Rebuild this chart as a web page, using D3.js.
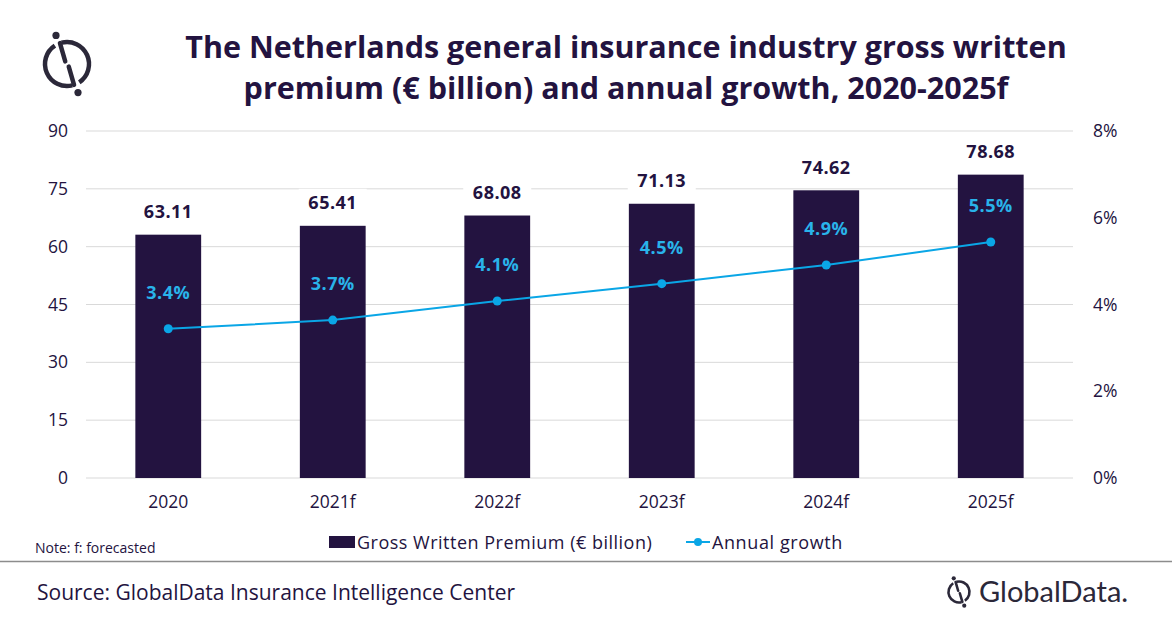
<!DOCTYPE html>
<html>
<head>
<meta charset="utf-8">
<script src="https://cdn.jsdelivr.net/npm/d3@7"></script>
<style>
  body { margin: 0; background: #fff; }
  text { font-family: "Open Sans", sans-serif; }
</style>
</head>
<body>
<div class="chart"></div>
<script>
const years = ['2020', '2021f', '2022f', '2023f', '2024f', '2025f'];
const premium = [63.11, 65.41, 68.08, 71.13, 74.62, 78.68];
const growth = [3.44, 3.64, 4.08, 4.48, 4.91, 5.44];
const growthLabels = ['3.4%', '3.7%', '4.1%', '4.5%', '4.9%', '5.5%'];
const leftTicks = [0, 15, 30, 45, 60, 75, 90];
const rightTicks = [0, 2, 4, 6, 8];

const W = 1172, H = 628;
const dark = '#231340';
const blue = '#0aa6e6';
const labelBlue = '#29b3ea';

const svg = d3.select('.chart')
    .append('svg')
        .attr('width', W)
        .attr('height', H);

const x = d3.scaleBand().domain(years).range([86, 1073]).paddingInner(0.6).paddingOuter(0.3);
const y = d3.scaleLinear().domain([0, 90]).range([478, 131]);
const y2 = d3.scaleLinear().domain([0, 8]).range([478, 131]);

// title
svg.append('text')
    .attr('x', 626).attr('y', 0)
    .attr('text-anchor', 'middle')
    .style('font-weight', 700).style('font-size', '30.5px').style('fill', dark)
    .selectAll('tspan')
    .data(['The Netherlands general insurance industry gross written', 'premium (€ billion) and annual growth, 2020-2025f'])
    .enter().append('tspan')
        .attr('x', 626)
        .attr('y', (d, i) => 58 + i * 41)
        .text(d => d);

// logo
const logo = (g, cx, cy, r, sw) => {
    const arc = d3.arc().innerRadius(r - sw / 2).outerRadius(r + sw / 2);
    g.append('path').attr('transform', `translate(${cx},${cy})`)
        .attr('d', arc({ startAngle: -0.25, endAngle: 2.55 })).attr('fill', '#2b2839');
    g.append('path').attr('transform', `translate(${cx},${cy})`)
        .attr('d', arc({ startAngle: 2.9, endAngle: 5.7 })).attr('fill', '#2b2839');
    g.append('line')
        .attr('x1', cx - r * 0.32).attr('y1', cy - r * 0.95)
        .attr('x2', cx - r * 0.08).attr('y2', cy - r * 0.12)
        .attr('stroke', '#2b2839').attr('stroke-width', sw).attr('stroke-linecap', 'round');
    g.append('line')
        .attr('x1', cx + r * 0.08).attr('y1', cy + r * 0.12)
        .attr('x2', cx + r * 0.32).attr('y2', cy + r * 0.95)
        .attr('stroke', '#2b2839').attr('stroke-width', sw).attr('stroke-linecap', 'round');
    g.append('circle').attr('cx', cx - r * 0.5).attr('cy', cy - r * 1.3).attr('r', sw * 0.8).attr('fill', '#2b2839');
    g.append('circle').attr('cx', cx + r * 0.5).attr('cy', cy + r * 1.3).attr('r', sw * 0.8).attr('fill', '#2b2839');
};
logo(svg.append('g'), 67, 64, 22, 4.5);

// gridlines
svg.append('g')
    .selectAll('line')
    .data(leftTicks)
    .enter().append('line')
        .attr('x1', 86).attr('x2', 1073)
        .attr('y1', d => y(d)).attr('y2', d => y(d))
        .attr('stroke', '#d9d9d9').attr('stroke-width', 1);

// axes
const axisStyle = g => {
    g.select('.domain').remove();
    g.selectAll('.tick line').remove();
    g.selectAll('text')
        .style('font-size', '17.5px').style('fill', dark)
        .style('font-family', '"Open Sans", sans-serif');
};
svg.append('g')
    .attr('transform', 'translate(68,0)')
    .call(d3.axisLeft(y).tickValues(leftTicks).tickSize(0).tickPadding(0))
    .call(axisStyle);
svg.append('g')
    .attr('transform', 'translate(1093,0)')
    .call(d3.axisRight(y2).tickValues(rightTicks).tickSize(0).tickPadding(0).tickFormat(d => d + '%'))
    .call(axisStyle);
svg.append('g')
    .attr('transform', 'translate(0,496)')
    .call(d3.axisBottom(x).tickSize(0).tickPadding(0))
    .call(axisStyle);

// bars
svg.append('g')
    .selectAll('rect')
    .data(premium)
    .enter().append('rect')
        .attr('x', (d, i) => x(years[i]))
        .attr('y', d => y(d))
        .attr('width', x.bandwidth())
        .attr('height', d => y(0) - y(d))
        .attr('fill', dark);

// bar labels with white backing
const barLab = svg.append('g')
    .selectAll('g')
    .data(premium)
    .enter().append('g')
        .attr('transform', (d, i) => `translate(${x(years[i]) + x.bandwidth() / 2},${y(d) - 23})`);
barLab.append('rect')
    .attr('x', -34).attr('y', -14).attr('width', 68).attr('height', 28)
    .attr('fill', '#fff');
barLab.append('text')
    .attr('text-anchor', 'middle').attr('dy', '0.35em')
    .style('font-weight', 700).style('font-size', '18px').style('fill', dark)
    .style('letter-spacing', '0.5px')
    .text(d => d.toFixed(2));

// growth line
const cx = (d, i) => x(years[i]) + x.bandwidth() / 2;
svg.append('path')
    .datum(growth)
    .attr('d', d3.line().x(cx).y(d => y2(d)))
    .attr('fill', 'none').attr('stroke', blue).attr('stroke-width', 2);
svg.append('g')
    .selectAll('circle')
    .data(growth)
    .enter().append('circle')
        .attr('cx', cx).attr('cy', d => y2(d)).attr('r', 4.5)
        .attr('fill', blue);
svg.append('g')
    .selectAll('text')
    .data(growth)
    .enter().append('text')
        .attr('x', cx).attr('y', d => y2(d) - 36)
        .attr('text-anchor', 'middle').attr('dy', '0.35em')
        .style('font-weight', 700).style('font-size', '18px').style('fill', labelBlue)
        .style('letter-spacing', '0.5px')
        .text((d, i) => growthLabels[i]);

// legend
svg.append('rect').attr('x', 329).attr('y', 536).attr('width', 26).attr('height', 12).attr('fill', dark);
svg.append('text').attr('x', 357).attr('y', 549)
    .style('font-size', '18px').style('fill', dark).style('letter-spacing', '0.5px')
    .text('Gross Written Premium (€ billion)');
svg.append('line').attr('x1', 686).attr('x2', 710).attr('y1', 542).attr('y2', 542)
    .attr('stroke', blue).attr('stroke-width', 2);
svg.append('circle').attr('cx', 698).attr('cy', 542).attr('r', 4).attr('fill', blue);
svg.append('text').attr('x', 712).attr('y', 549)
    .style('font-size', '18px').style('fill', dark).style('letter-spacing', '0.6px')
    .text('Annual growth');

// note, separator, source
svg.append('text').attr('x', 35).attr('y', 553)
    .style('font-size', '14px').style('fill', dark)
    .text('Note: f: forecasted');
svg.append('line').attr('x1', 0).attr('x2', W).attr('y1', 561.5).attr('y2', 561.5)
    .attr('stroke', '#8c8c8c').attr('stroke-width', 1.5);
svg.append('text').attr('x', 37).attr('y', 600)
    .style('font-size', '21px').style('fill', dark)
    .text('Source: GlobalData Insurance Intelligence Center');

// bottom logo
logo(svg.append('g'), 959, 592, 10.5, 2.6);
svg.append('text').attr('x', 979).attr('y', 602)
    .style('font-size', '29px').style('fill', '#2b2839')
    .style('font-family', 'Lato, sans-serif')
    .text('GlobalData.');
</script>
</body>
</html>
